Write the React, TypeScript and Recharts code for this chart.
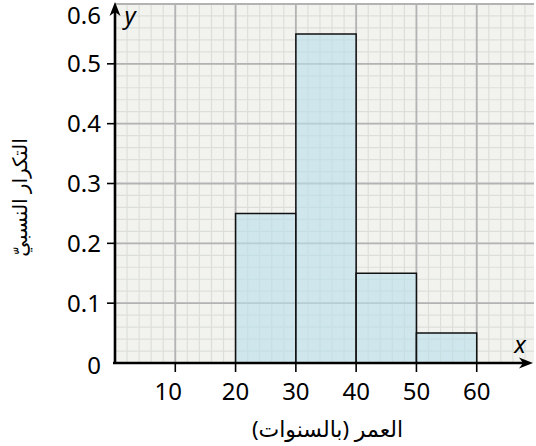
import React from 'react';
import { ComposedChart, XAxis, YAxis, CartesianGrid, ReferenceArea, ReferenceLine } from 'recharts';

const binStart = [20, 30, 40, 50];
const binEnd = [30, 40, 50, 60];
const relFreq = [0.25, 0.55, 0.15, 0.05];
const xTicks = [10, 20, 30, 40, 50, 60];
const yTicks = [0, 0.1, 0.2, 0.3, 0.4, 0.5, 0.6];
const xMajor = [10, 20, 30, 40, 50, 60];
const yMajor = [0.1, 0.2, 0.3, 0.4, 0.5, 0.6];
const xMinor: number[] = [];
for (let v = 2; v < 70; v += 2) xMinor.push(v);
const yMinor: number[] = [];
for (let i = 1; i <= 30; i++) yMinor.push(Math.round(i * 2) / 100);

const FONT = "'Noto Sans', 'DejaVu Sans', sans-serif";
const W = 536;
const H = 446;

const XTick = (props: any) => {
  const { x, y, payload } = props;
  const dx = payload.value === 10 ? -7 : 0;
  return (
    <g>
      <line x1={x} y1={y} x2={x} y2={y + 9} stroke="#000" strokeWidth={1.6} />
      <text x={x + dx} y={y + 37} textAnchor="middle" fontSize={24} fontFamily={FONT} fill="#000">
        {payload.value}
      </text>
    </g>
  );
};

const YTick = (props: any) => {
  const { x, y, payload } = props;
  const v = payload.value;
  const showLine = v > 0 && v < 0.6;
  const ty = v === 0.6 ? y + 11 : v === 0 ? y + 2 : y;
  return (
    <g>
      {showLine && <line x1={x - 8} y1={y} x2={x} y2={y} stroke="#000" strokeWidth={1.6} />}
      <text x={x - 14} y={ty} dy="0.36em" textAnchor="end" fontSize={24} fontFamily={FONT} fill="#000">
        {v === 0 ? '0' : v.toFixed(1)}
      </text>
    </g>
  );
};

const XArrow = (p: any) => {
  const { x1, y1, x2 } = p;
  const tip = x2 - 1;
  return (
    <g>
      <line x1={x1 - 2} y1={y1} x2={tip - 6} y2={y1} stroke="#000" strokeWidth={2.6} />
      <polygon points={`${tip},${y1} ${tip - 14},${y1 - 5.5} ${tip - 10},${y1} ${tip - 14},${y1 + 5.5}`} fill="#000" />
      <text x={tip - 13} y={y1 - 10} textAnchor="middle" fontSize={24} fontStyle="italic" fontFamily={FONT} fill="#000">x</text>
    </g>
  );
};

const YArrow = (p: any) => {
  const { x1, y1, y2 } = p;
  const tip = y2 - 2;
  return (
    <g>
      <line x1={x1} y1={y1 + 1} x2={x1} y2={tip + 6} stroke="#000" strokeWidth={2.6} />
      <polygon points={`${x1},${tip} ${x1 - 5.5},${tip + 14} ${x1},${tip + 10} ${x1 + 5.5},${tip + 14}`} fill="#000" />
      <text x={x1 + 15} y={tip + 22} textAnchor="middle" fontSize={24} fontStyle="italic" fontFamily={FONT} fill="#000">y</text>
    </g>
  );
};

export default function App() {
  return (
    <div style={{ width: W, height: H, position: 'absolute', left: 0, top: 0, background: '#fff' }}>
      <style>{`body{margin:0}`}</style>
      <ComposedChart width={W} height={H} data={[]} margin={{ top: 4, right: 2, left: 0, bottom: 0 }}>
        <XAxis
          type="number"
          dataKey="x"
          domain={[0, 69.5]}
          ticks={xTicks}
          interval={0}
          allowDataOverflow
          axisLine={false}
          tickLine={false}
          tickSize={0}
          tickMargin={0}
          height={83}
          tick={<XTick />}
          label={{
            value: 'العمر (بالسنوات)',
            position: 'insideBottom',
            offset: 9,
            fontSize: 22,
            fontFamily: FONT,
            fill: '#000',
            dx: 3,
          }}
        />
        <YAxis
          type="number"
          domain={[0, 0.6]}
          ticks={yTicks}
          interval={0}
          allowDataOverflow
          axisLine={false}
          tickLine={false}
          tickSize={0}
          tickMargin={0}
          width={115}
          tick={<YTick />}
          label={{
            value: 'التكرار النسبيّ',
            angle: -90,
            position: 'insideLeft',
            offset: 20,
            dy: 14,
            fontSize: 20,
            fontFamily: FONT,
            fill: '#000',
            style: { textAnchor: 'middle' },
          }}
        />
        <CartesianGrid
          fill="#f2f3ef"
          stroke="#dcdfd9"
          strokeWidth={1.2}
          verticalValues={xMinor}
          horizontalValues={yMinor}
        />
        <CartesianGrid
          stroke="#b3b3b3"
          strokeWidth={1.8}
          verticalValues={xMajor}
          horizontalValues={yMajor}
        />
        {binStart.map((s, i) => (
          <ReferenceArea
            key={s}
            x1={s}
            x2={binEnd[i]}
            y1={0}
            y2={relFreq[i]}
            fill="#b8e0ea"
            fillOpacity={0.6}
            stroke="#111"
            strokeOpacity={1}
            strokeWidth={1.5}
            ifOverflow="visible"
          />
        ))}
        <ReferenceLine
          segment={[{ x: 0, y: 0 }, { x: 69.5, y: 0 }]}
          ifOverflow="visible"
          shape={<XArrow />}
        />
        <ReferenceLine
          segment={[{ x: 0, y: 0 }, { x: 0, y: 0.6 }]}
          ifOverflow="visible"
          shape={<YArrow />}
        />
      </ComposedChart>
    </div>
  );
}
